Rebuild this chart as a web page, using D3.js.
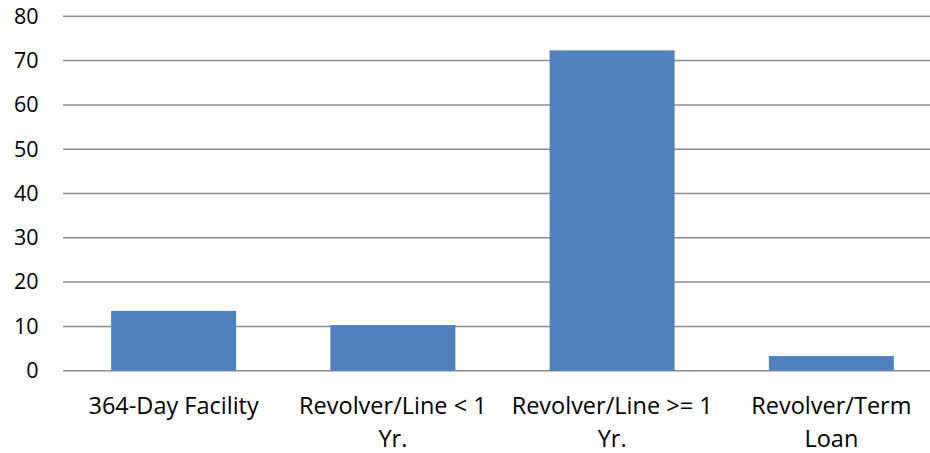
<!DOCTYPE html>
<html>
<head>
<meta charset="utf-8">
<script src="https://cdn.jsdelivr.net/npm/d3@7"></script>
<style>
  html, body { margin: 0; padding: 0; background: #fff; }
  text { font-family: "Open Sans", "Liberation Sans", sans-serif; fill: #000; }
</style>
</head>
<body>
<svg id="chart" width="930" height="453"></svg>
<script>
const categories = [["364-Day Facility"], ["Revolver/Line < 1", "Yr."], ["Revolver/Line >= 1", "Yr."], ["Revolver/Term", "Loan"]];
const values = [13.5, 10.3, 72.3, 3.3];
const yTicks = [0, 10, 20, 30, 40, 50, 60, 70, 80];

const svg = d3.select("#chart");
const mLeft = 63, mRight = 940, mTop = 16.3, mBottom = 370.7;

const x = d3.scaleBand().domain(d3.range(categories.length)).range([mLeft + 1, mRight + 1]).paddingInner(0.43).paddingOuter(0.215);
const y = d3.scaleLinear().domain([0, 80]).range([mBottom, mTop]);

// gridlines
svg.append("g").selectAll("line").data(yTicks).join("line")
  .attr("x1", mLeft).attr("x2", mRight)
  .attr("y1", d => y(d)).attr("y2", d => y(d))
  .attr("stroke", "#8c8c8c").attr("stroke-width", 1.5);

// y labels
const yAxis = d3.axisLeft(y).tickValues(yTicks).tickSize(0).tickPadding(0);
const gy = svg.append("g").attr("transform", "translate(38.5,0)").call(yAxis);
gy.select(".domain").remove();
gy.selectAll("text").attr("font-size", 21.5).attr("fill", "#000")
  .style("font-family", '"Open Sans", "Liberation Sans", sans-serif');

// bars
svg.append("g").selectAll("rect").data(values).join("rect")
  .attr("x", (d, i) => x(i)).attr("width", x.bandwidth())
  .attr("y", d => y(d)).attr("height", d => y(0) - y(d))
  .attr("fill", "#4f81bd");

// x labels
const lab = svg.append("g").selectAll("text").data(categories).join("text")
  .attr("x", (d, i) => x(i) + x.bandwidth() / 2)
  .attr("y", 414)
  .attr("text-anchor", "middle")
  .attr("font-size", 23.5);
lab.selectAll("tspan").data(d => d).join("tspan")
  .attr("x", function() { return d3.select(this.parentNode).attr("x"); })
  .attr("dy", (d, i) => i === 0 ? 0 : 32.5)
  .text(d => d);
</script>
</body>
</html>
